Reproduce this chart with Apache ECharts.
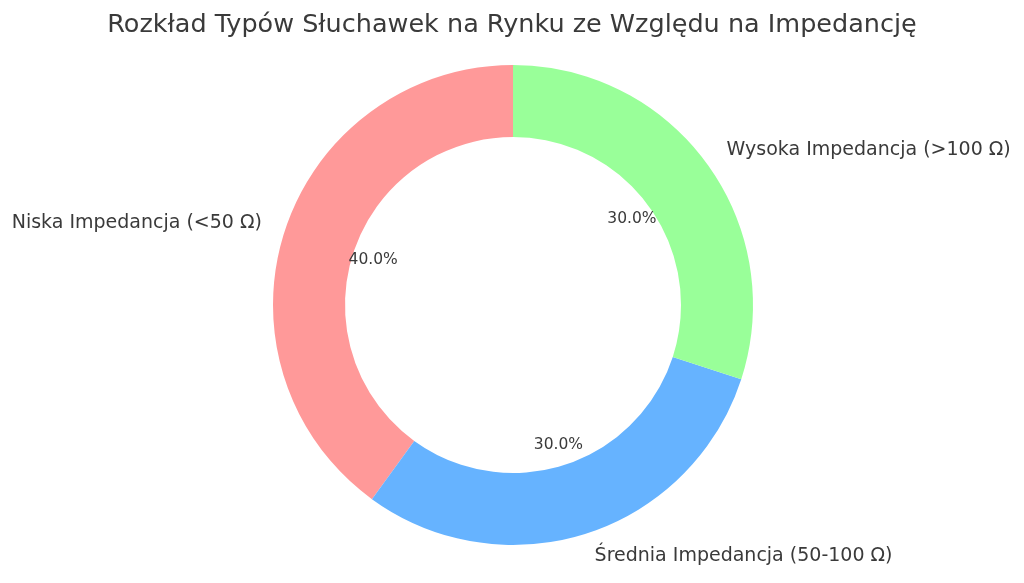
<!DOCTYPE html>
<html>
<head>
<meta charset="utf-8">
<script src="https://cdn.jsdelivr.net/npm/echarts@6/dist/echarts.min.js"></script>
<style>
html,body{margin:0;padding:0;background:#fff;}
#chart{width:1024px;height:583px;}
</style>
</head>
<body>
<div id="chart"></div>
<script>
const titleText = 'Rozkład Typów Słuchawek na Rynku ze Względu na Impedancję';
const categories = ['Niska Impedancja (<50 Ω)', 'Średnia Impedancja (50-100 Ω)', 'Wysoka Impedancja (>100 Ω)'];
const values = [40, 30, 30];
const colors = ['#ff9999', '#66b3ff', '#99ff99'];

const data = categories.map((c, i) => ({ name: c, value: values[i], itemStyle: { color: colors[i] } }));
const font = 'DejaVu Sans';
const chart = echarts.init(document.getElementById('chart'));
chart.setOption({
  animation: false,
  title: {
    text: titleText,
    left: 'center',
    top: 7,
    textStyle: { fontFamily: font, fontSize: 25.5, fontWeight: 'normal', color: '#3a3a3a' }
  },
  series: [
    {
      type: 'pie',
      center: [513, 305],
      radius: [168, 240],
      startAngle: 90,
      clockwise: false,
      avoidLabelOverlap: false,
      data: data,
      label: {
        show: true,
        position: 'outside',
        fontFamily: font,
        fontSize: 19,
        color: '#3a3a3a',
        distanceToLabelLine: 0,
        formatter: '{b}'
      },
      labelLine: { show: false, length: 24, length2: 0 },
      emphasis: { disabled: true }
    },
    {
      type: 'pie',
      center: [513, 305],
      radius: [120, 168],
      startAngle: 90,
      clockwise: false,
      silent: true,
      data: data.map(d => ({ name: d.name, value: d.value, itemStyle: { color: 'rgba(0,0,0,0)' } })),
      label: {
        show: true,
        position: 'inside',
        fontFamily: font,
        fontSize: 15.5,
        color: '#3a3a3a',
        formatter: p => p.percent.toFixed(1) + '%'
      },
      labelLine: { show: false },
      emphasis: { disabled: true }
    }
  ]
});
</script>
</body>
</html>
